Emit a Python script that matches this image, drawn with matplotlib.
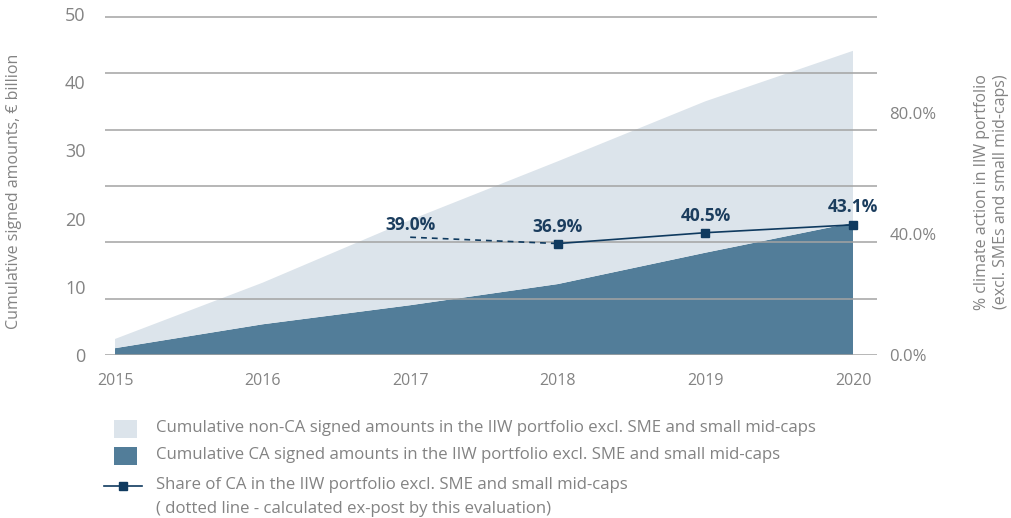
import matplotlib
matplotlib.use("Agg")
import matplotlib.pyplot as plt
from matplotlib.patches import Rectangle
from matplotlib.lines import Line2D

# ---- data ----
years = [2015, 2016, 2017, 2018, 2019, 2020]
ca_signed = [1.0, 4.5, 7.3, 10.4, 15.0, 19.4]          # € billion, cumulative CA
non_ca_signed = [1.35, 6.1, 12.5, 18.0, 22.2, 25.2]     # € billion, cumulative non-CA
share_years_expost = [2017, 2018]
share_expost = [39.0, 36.9]
share_years = [2018, 2019, 2020]
share_ca = [36.9, 40.5, 43.1]
label_years = [2017, 2018, 2019, 2020]
label_values = [39.0, 36.9, 40.5, 43.1]
left_ticks = [0, 10, 20, 30, 40, 50]
right_ticks = [0, 40, 80]

LIGHT = "#dce4eb"
DARK = "#527d99"
NAVY = "#0f3a5f"
GRID = "#a3a3a3"
GRAYTXT = "#838383"
FONT = "Open Sans"

W, H = 1012, 518
fig = plt.figure(figsize=(W / 100, H / 100), dpi=100)

def fx(px):
    return px / W

def fy(py):
    return 1 - py / H

ax = fig.add_axes([fx(105), fy(355), fx(877) - fx(105), fy(14) - fy(355)])
ax.set_xlim(2015 - 10 / 147.6, 2020 + 24 / 147.6)
ax.set_ylim(0, 50)

ax.stackplot(years, ca_signed, non_ca_signed, colors=[DARK, LIGHT], linewidth=0, zorder=1)

# gridlines (independent of tick labels in the original design)
for k in range(7):
    ax.axhline(k * (50 * 338 / 341) / 6, color=GRID, lw=1.1, zorder=2)

for s in ax.spines.values():
    s.set_visible(False)
ax.set_yticks(left_ticks)
ax.set_yticklabels([str(t) for t in left_ticks], fontsize=13, color=GRAYTXT, family=FONT)
ax.tick_params(axis="y", length=0, pad=14)
ax.set_xticks(years)
ax.set_xticklabels([str(y) for y in years], fontsize=11.5, color=GRAYTXT, family=FONT)
ax.tick_params(axis="x", length=0, pad=13)

ax2 = ax.twinx()
ax2.set_ylim(0, 341 / 3.02)
ax2.set_xlim(ax.get_xlim())
for s in ax2.spines.values():
    s.set_visible(False)
ax2.set_yticks(right_ticks)
ax2.set_yticklabels([f"{t:.1f}%" for t in right_ticks], fontsize=12, color=GRAYTXT, family=FONT)
ax2.tick_params(axis="y", length=0, pad=9)

ax2.plot(share_years_expost, share_expost, color=NAVY, lw=1.2, ls=(0, (3.5, 3)), zorder=3)
ax2.plot(share_years, share_ca, color=NAVY, lw=1.2, marker="s", ms=6, zorder=4)

offsets = [8.6, 12.2, 12.2, 13]
for xv, yv, off in zip(label_years, label_values, offsets):
    ax2.annotate(f"{yv:.1f}%", (xv, yv), xytext=(0, off), textcoords="offset points",
                 ha="center", va="center", fontsize=12.5, fontweight="bold",
                 color="#1b3d5e", family=FONT)

# axis titles
fig.text(fx(14), fy(191), "Cumulative signed amounts, € billion", rotation=90,
         ha="center", va="center", fontsize=11.5, color=GRAYTXT, family=FONT)
fig.text(fx(992), fy(192), "% climate action in IIW portfolio\n(excl. SMEs and small mid-caps)",
         rotation=90, ha="center", va="center", fontsize=11.5, color=GRAYTXT,
         family=FONT, linespacing=1.25, multialignment="center")

# legend (manual)
fig.add_artist(Rectangle((fx(114), fy(438)), fx(23), fy(420) - fy(438),
                         transform=fig.transFigure, color=LIGHT, lw=0))
fig.add_artist(Rectangle((fx(114), fy(465)), fx(23), fy(447) - fy(465),
                         transform=fig.transFigure, color=DARK, lw=0))
fig.add_artist(Line2D([fx(104), fx(142)], [fy(486), fy(486)], transform=fig.transFigure,
                      color=NAVY, lw=1.2))
fig.add_artist(Line2D([fx(123)], [fy(486)], transform=fig.transFigure, color=NAVY,
                      marker="s", ms=6, lw=0))
leg_texts = [
    (428, "Cumulative non-CA signed amounts in the IIW portfolio excl. SME and small mid-caps"),
    (455, "Cumulative CA signed amounts in the IIW portfolio excl. SME and small mid-caps"),
    (485, "Share of CA in the IIW portfolio excl. SME and small mid-caps"),
    (509, "( dotted line - calculated ex-post by this evaluation)"),
]
for py, t in leg_texts:
    fig.text(fx(156), fy(py), t, ha="left", va="center", fontsize=12.1,
             color=GRAYTXT, family=FONT)

fig.savefig("out.png", dpi=100)
